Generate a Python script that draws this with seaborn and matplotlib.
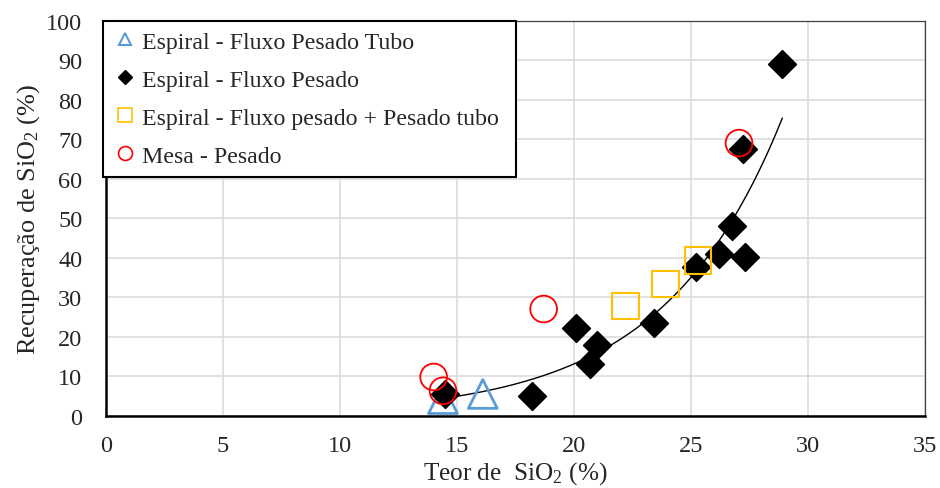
import matplotlib
matplotlib.use("Agg")
import matplotlib.pyplot as plt
from matplotlib.lines import Line2D
import seaborn as sns
import numpy as np

# Espiral - Fluxo Pesado Tubo (triangles)
tubo_x = [14.4, 16.1]
tubo_y = [4.2, 5.5]

# Espiral - Fluxo Pesado (diamonds)
pesado_x = [14.5, 18.2, 20.1, 21.0, 20.7, 23.4, 25.2, 26.2, 26.75, 27.3, 27.2, 28.9]
pesado_y = [5.5, 5.0, 22.2, 17.9, 13.1, 23.5, 37.6, 40.9, 48.0, 40.2, 67.5, 89.0]

# Espiral - Fluxo pesado + Pesado tubo (squares)
mix_x = [22.2, 23.9, 25.3]
mix_y = [27.8, 33.3, 39.2]

# Mesa - Pesado (circles)
mesa_x = [14.0, 14.4, 18.7, 27.05]
mesa_y = [9.8, 6.3, 27.0, 69.0]

labels = ["Espiral - Fluxo Pesado Tubo", "Espiral - Fluxo Pesado",
          "Espiral - Fluxo pesado + Pesado tubo", "Mesa - Pesado"]

sns.set_style("whitegrid")
plt.rcParams["font.family"] = ["Liberation Serif", "DejaVu Serif"]
plt.rcParams["mathtext.fontset"] = "custom"
plt.rcParams["mathtext.rm"] = "Liberation Serif"
plt.rcParams["mathtext.it"] = "Liberation Serif:italic"

fig = plt.figure(figsize=(9.4, 4.89), dpi=100)
ax = fig.add_axes([0.1128, 0.1479, 0.8713, 0.8078])

# exponential trendline fitted on the "Fluxo Pesado" series
b, ln_a = np.polyfit(pesado_x, np.log(pesado_y), 1)
xt = np.linspace(min(pesado_x), max(pesado_x), 200)
ax.plot(xt, np.exp(ln_a) * np.exp(b * xt), color="black", lw=1.0, zorder=2)

sns.scatterplot(x=tubo_x, y=tubo_y, marker="^", s=430, facecolor="none",
                edgecolor="#5b9bd5", linewidth=2.0, ax=ax, zorder=3)
sns.scatterplot(x=pesado_x, y=pesado_y, marker="D", s=200, color="black",
                edgecolor="black", ax=ax, zorder=4)
sns.scatterplot(x=mix_x, y=mix_y, marker="s", s=370, facecolor="none",
                edgecolor="#ffc000", linewidth=1.5, ax=ax, zorder=5)
sns.scatterplot(x=mesa_x, y=mesa_y, marker="o", s=370, facecolor="none",
                edgecolor="#ff0000", linewidth=1.3, ax=ax, zorder=6)

ax.set_xlim(0, 35)
ax.set_ylim(0, 100)
ax.set_xticks(range(0, 36, 5))
ax.set_yticks(range(0, 101, 10))
ax.grid(True, color="#d9d9d9", lw=1.1)
ax.tick_params(axis="both", labelsize=17.5, length=0)
ax.tick_params(axis="y", pad=17)
ax.tick_params(axis="x", pad=14)
for side in ["left", "bottom"]:
    ax.spines[side].set_color("black")
    ax.spines[side].set_linewidth(1.8)
for side in ["top", "right"]:
    ax.spines[side].set_color("#404040")
    ax.spines[side].set_linewidth(0.9)

ax.set_xlabel("Teor de  SiO$_2$ (%)", fontsize=18.2, labelpad=2)
ax.set_ylabel("Recuperação de SiO$_2$ (%)", fontsize=18.9, labelpad=3)

handles = [
    Line2D([], [], ls="none", marker="^", ms=9, mfc="none", mec="#5b9bd5", mew=1.5),
    Line2D([], [], ls="none", marker="D", ms=7.5, color="black"),
    Line2D([], [], ls="none", marker="s", ms=10, mfc="none", mec="#ffc000", mew=1.2),
    Line2D([], [], ls="none", marker="o", ms=10, mfc="none", mec="#ff0000", mew=1.2),
]
leg = ax.legend(handles, labels, loc="upper left",
                bbox_to_anchor=(103 / 940, 1 - 173 / 489, 413 / 940, 151 / 489),
                bbox_transform=fig.transFigure, mode="expand", fontsize=17.2,
                frameon=True, fancybox=False, borderaxespad=0, handlelength=1.0,
                handletextpad=0.2, labelspacing=0.68, borderpad=0.42, framealpha=1)
leg.get_frame().set_edgecolor("black")
leg.get_frame().set_linewidth(1.5)
leg.set_zorder(10)

fig.savefig("out.png", dpi=100)
